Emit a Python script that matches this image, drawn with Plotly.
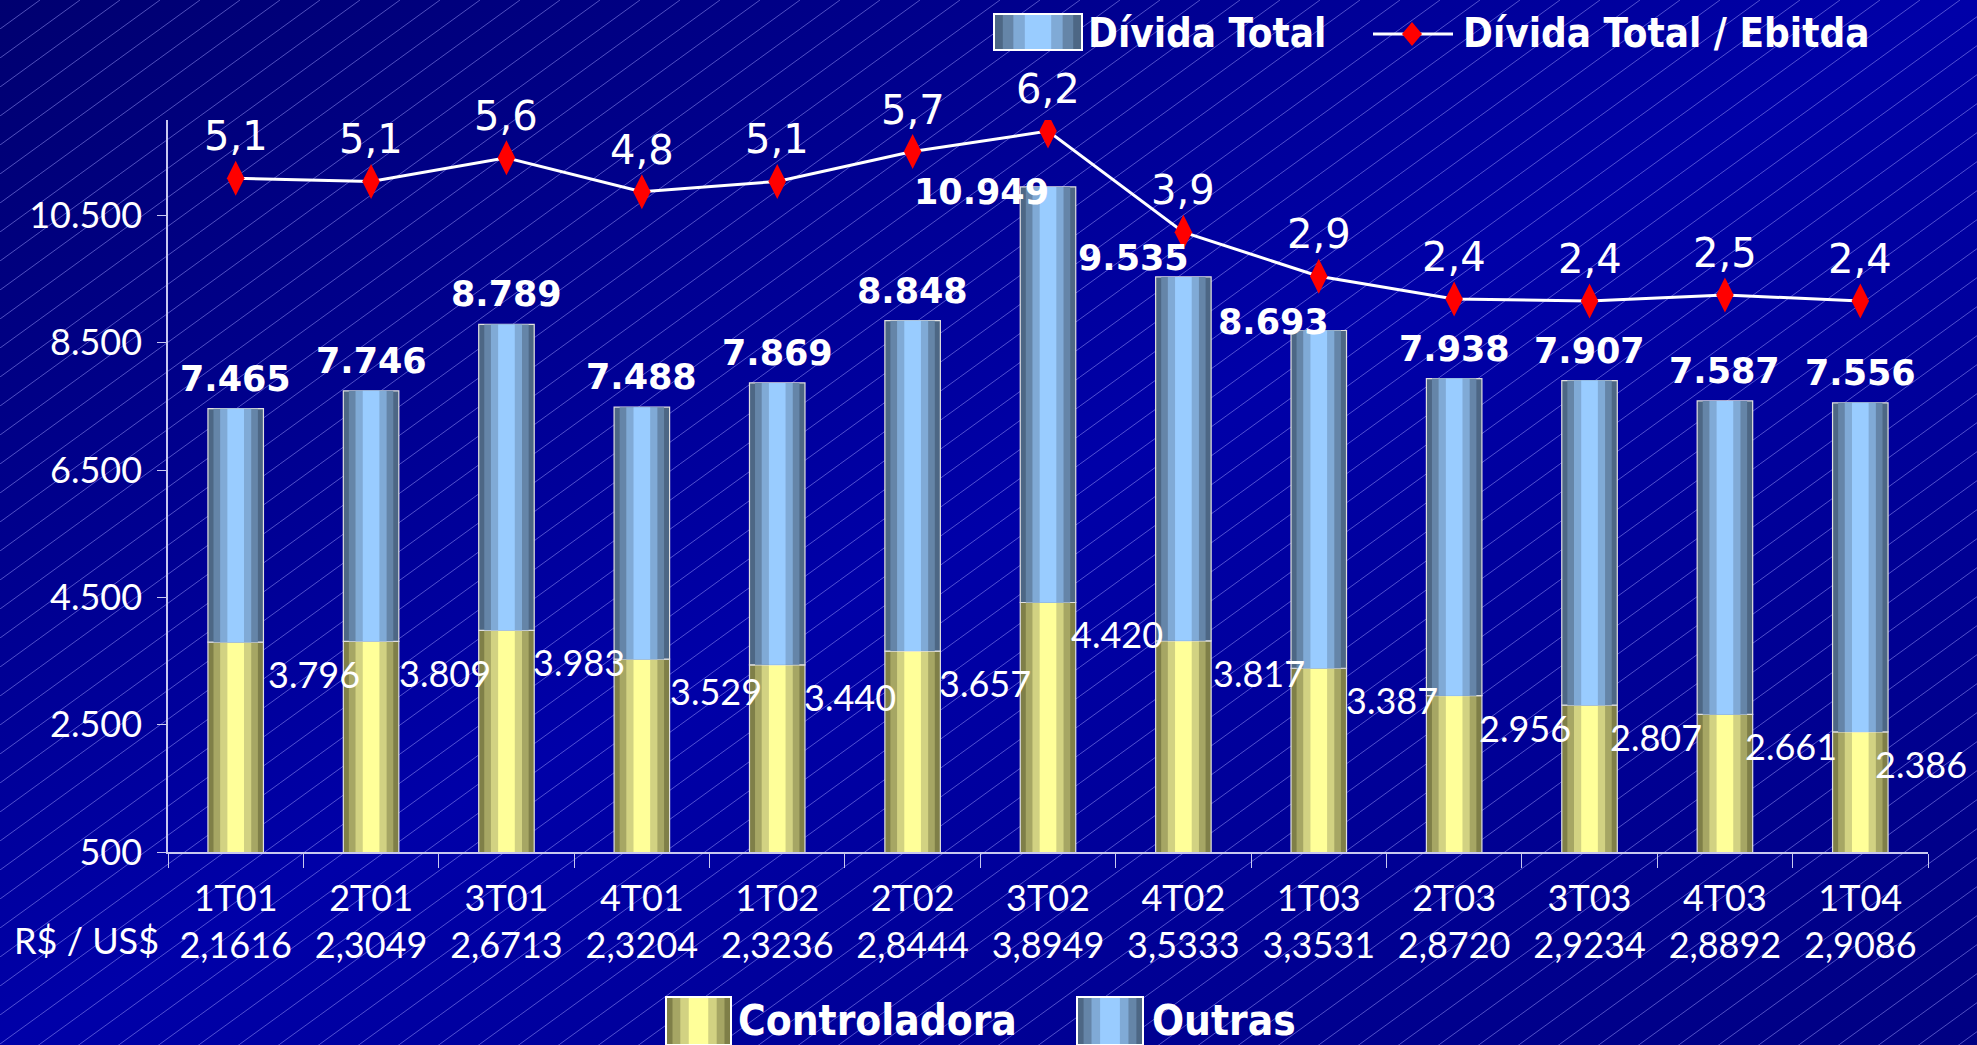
import base64
import plotly.graph_objects as go

# ---------------- data ----------------
categories = ["1T01", "2T01", "3T01", "4T01", "1T02", "2T02", "3T02",
              "4T02", "1T03", "2T03", "3T03", "4T03", "1T04"]
fx_rates = ["2,1616", "2,3049", "2,6713", "2,3204", "2,3236", "2,8444", "3,8949",
            "3,5333", "3,3531", "2,8720", "2,9234", "2,8892", "2,9086"]
controladora = [3796, 3809, 3983, 3529, 3440, 3657, 4420, 3817, 3387, 2956, 2807, 2661, 2386]
outras = [3669, 3937, 4806, 3959, 4429, 5191, 6529, 5718, 5306, 4982, 5100, 4926, 5170]
divida_total = [7465, 7746, 8789, 7488, 7869, 8848, 10949, 9535, 8693, 7938, 7907, 7587, 7556]
divida_ebitda = [5.14, 5.07, 5.60, 4.84, 5.07, 5.74, 6.20, 3.93, 2.94, 2.43, 2.38, 2.52, 2.38]

# label nudges (pixels) as placed in the original
total_dx = [0, 0, 0, 0, 0, 0, -67, -50, -45, 0, 0, 0, 0]
total_dy = [30, 30, 30, 30, 30, 30, -5, 19, 9, 30, 30, 30, 30]
ctrl_dx = [30, 26, 25, 26, 25, 24, 21, 28, 25, 23, 18, 18, 13]


def fmt_int(v):
    return f"{v:,.0f}".replace(",", ".")


def fmt_dec(v):
    return f"{v:.1f}".replace(".", ",")


W = 1977
H = 1045
ML, MR, MT, MB = 168, 49, 120, 193
PW = W - ML - MR
PH = H - MT - MB


def px(x):
    return (x - ML) / PW


def py(y):
    return (MT + PH - y) / PH


# ---------------- background (gradient + diagonal hatching) ----------------
svg = f'''<svg xmlns="http://www.w3.org/2000/svg" width="{W}" height="{H}" viewBox="0 0 {W} {H}" preserveAspectRatio="none">
<defs>
<linearGradient id="g" x1="0" y1="0" x2="1" y2="1">
<stop offset="0" stop-color="#000070"/>
<stop offset="0.5" stop-color="#0000A8"/>
<stop offset="1" stop-color="#000082"/>
</linearGradient>
<pattern id="p" width="40" height="29" patternUnits="userSpaceOnUse">
<path d="M0,29 L40,0" stroke="#A0A0FF" stroke-opacity="0.5" stroke-width="1"/>
</pattern>
</defs>
<rect width="{W}" height="{H}" fill="url(#g)"/>
<rect width="{W}" height="{H}" fill="url(#p)"/>
</svg>'''
bg_src = "data:image/svg+xml;base64," + base64.b64encode(svg.encode()).decode()

fig = go.Figure()

BAR_W = 0.41
yellow_layers = [(1.0, "#7F7F48"), (0.8, "#A6A664"), (0.56, "#D2D282"), (0.3, "#FFFF99")]
blue_layers = [(1.0, "#4D6785"), (0.8, "#6585A8"), (0.56, "#80AAD6"), (0.3, "#99CCFF")]

# Controladora (bottom segment)
for i, (f, col) in enumerate(yellow_layers):
    fig.add_trace(go.Bar(
        x=categories, y=controladora, base=[0] * len(categories),
        width=BAR_W * f, marker=dict(color=col,
                                     line=dict(color="#E0E0E0", width=1.2 if i == 0 else 0)),
        name="Controladora", showlegend=False, hoverinfo="skip"))

# Outras (top segment)
for i, (f, col) in enumerate(blue_layers):
    fig.add_trace(go.Bar(
        x=categories, y=outras, base=controladora,
        width=BAR_W * f, marker=dict(color=col,
                                     line=dict(color="#E0E0E0", width=1.2 if i == 0 else 0)),
        name="Outras", showlegend=False, hoverinfo="skip"))

# Dívida Total / Ebitda line
fig.add_trace(go.Scatter(
    x=categories, y=divida_ebitda, yaxis="y2", mode="lines+markers",
    name="Dívida Total / Ebitda", showlegend=False,
    line=dict(color="white", width=3),
    marker=dict(symbol="diamond-tall", size=25, color="#FF0000"),
    hoverinfo="skip"))

annotations = []
for c, t, dx, dy in zip(categories, divida_total, total_dx, total_dy):
    annotations.append(dict(x=c, y=t, xref="x", yref="y", text=f"<b>{fmt_int(t)}</b>",
                            showarrow=False, xshift=dx, yshift=dy,
                            xanchor="center", yanchor="middle",
                            font=dict(family="DejaVu Sans", size=35, color="white")))
for c, v, dx in zip(categories, controladora, ctrl_dx):
    annotations.append(dict(x=c, y=v, xref="x", yref="y", text=fmt_int(v),
                            showarrow=False, xshift=dx, yshift=-32,
                            xanchor="left", yanchor="middle",
                            font=dict(family="Lato", size=36, color="white")))
for c, v in zip(categories, divida_ebitda):
    annotations.append(dict(x=c, y=v, xref="x", yref="y2", text=fmt_dec(v),
                            showarrow=False, yshift=42,
                            xanchor="center", yanchor="middle",
                            font=dict(family="DejaVu Sans", size=40, color="white")))
annotations.append(dict(x=px(12), y=py(940), xref="paper", yref="paper",
                        text="R$ / US$", showarrow=False, xanchor="left", yanchor="middle",
                        font=dict(family="Lato", size=36, color="white")))

# ---------------- legend (drawn as boxes + texts) ----------------
LEG_FONT = "DejaVu Sans Condensed, DejaVu Sans"
shapes = []


def legend_box(x0, x1, y0, y1, layers):
    cx = (x0 + x1) / 2
    half = (x1 - x0) / 2
    for f, col in layers:
        shapes.append(dict(type="rect", xref="paper", yref="paper",
                           x0=px(cx - half * f), x1=px(cx + half * f), y0=py(y1), y1=py(y0),
                           fillcolor=col, line=dict(width=0), layer="above"))
    shapes.append(dict(type="rect", xref="paper", yref="paper",
                       x0=px(x0), x1=px(x1), y0=py(y1), y1=py(y0),
                       fillcolor="rgba(0,0,0,0)", line=dict(color="white", width=2),
                       layer="above"))


def legend_text(x, y, text, size):
    annotations.append(dict(x=px(x), y=py(y), xref="paper", yref="paper",
                            text=f"<b>{text}</b>", showarrow=False,
                            xanchor="left", yanchor="middle",
                            font=dict(family=LEG_FONT, size=size, color="white")))


# top legend
legend_box(994, 1082, 14, 50, blue_layers)
legend_text(1086, 33, "Dívida Total", 40)
shapes.append(dict(type="line", xref="paper", yref="paper",
                   x0=px(1373), x1=px(1453), y0=py(34), y1=py(34),
                   line=dict(color="white", width=3), layer="above"))
dcx, dcy = 1412, 34
shapes.append(dict(type="path", xref="paper", yref="paper",
                   path=(f"M {px(dcx - 10)},{py(dcy)} L {px(dcx)},{py(dcy - 12)} "
                         f"L {px(dcx + 10)},{py(dcy)} L {px(dcx)},{py(dcy + 12)} Z"),
                   fillcolor="#FF0000", line=dict(width=0), layer="above"))
legend_text(1461, 33, "Dívida Total / Ebitda", 40)

# bottom legend
legend_box(666, 731, 997, 1045, yellow_layers)
legend_text(736, 1020, "Controladora", 42)
legend_box(1077, 1143, 997, 1045, blue_layers)
legend_text(1150, 1020, "Outras", 42)

axis_col = "#C8C8F0"
fig.update_layout(
    width=W, height=H,
    margin=dict(l=ML, r=MR, t=MT, b=MB, autoexpand=False),
    paper_bgcolor="#00009A", plot_bgcolor="rgba(0,0,0,0)",
    barmode="overlay",
    separators=",.",
    font=dict(family="Lato", color="white", size=36),
    images=[dict(source=bg_src, xref="paper", yref="paper",
                 x=-ML / PW, y=1 + MT / PH, sizex=W / PW, sizey=H / PH,
                 sizing="stretch", xanchor="left", yanchor="top", layer="below")],
    xaxis=dict(tickvals=categories,
               ticktext=[f"{c}<br>{r}" for c, r in zip(categories, fx_rates)],
               tickson="boundaries", ticks="outside", ticklen=14, tickcolor=axis_col,
               ticklabelstandoff=14,
               showline=True, linecolor=axis_col, linewidth=1.5, showgrid=False,
               tickfont=dict(family="Lato", size=36, color="white"),
               range=[-0.5, len(categories) - 0.5]),
    yaxis=dict(range=[500, 12000], tickvals=[500, 2500, 4500, 6500, 8500, 10500],
               tickformat=",d", ticks="outside", ticklen=9, tickcolor=axis_col,
               ticklabelstandoff=8,
               showline=True, linecolor=axis_col, linewidth=1.5, showgrid=False,
               zeroline=False,
               tickfont=dict(family="Lato", size=36, color="white")),
    yaxis2=dict(range=[-10, 6.45], overlaying="y", side="right", visible=False),
    shapes=shapes,
    annotations=annotations,
    showlegend=False,
)

fig.write_html("out.html",
               config={"displayModeBar": False},
               post_script="document.body.style.margin='0';document.body.style.overflow='hidden';")
